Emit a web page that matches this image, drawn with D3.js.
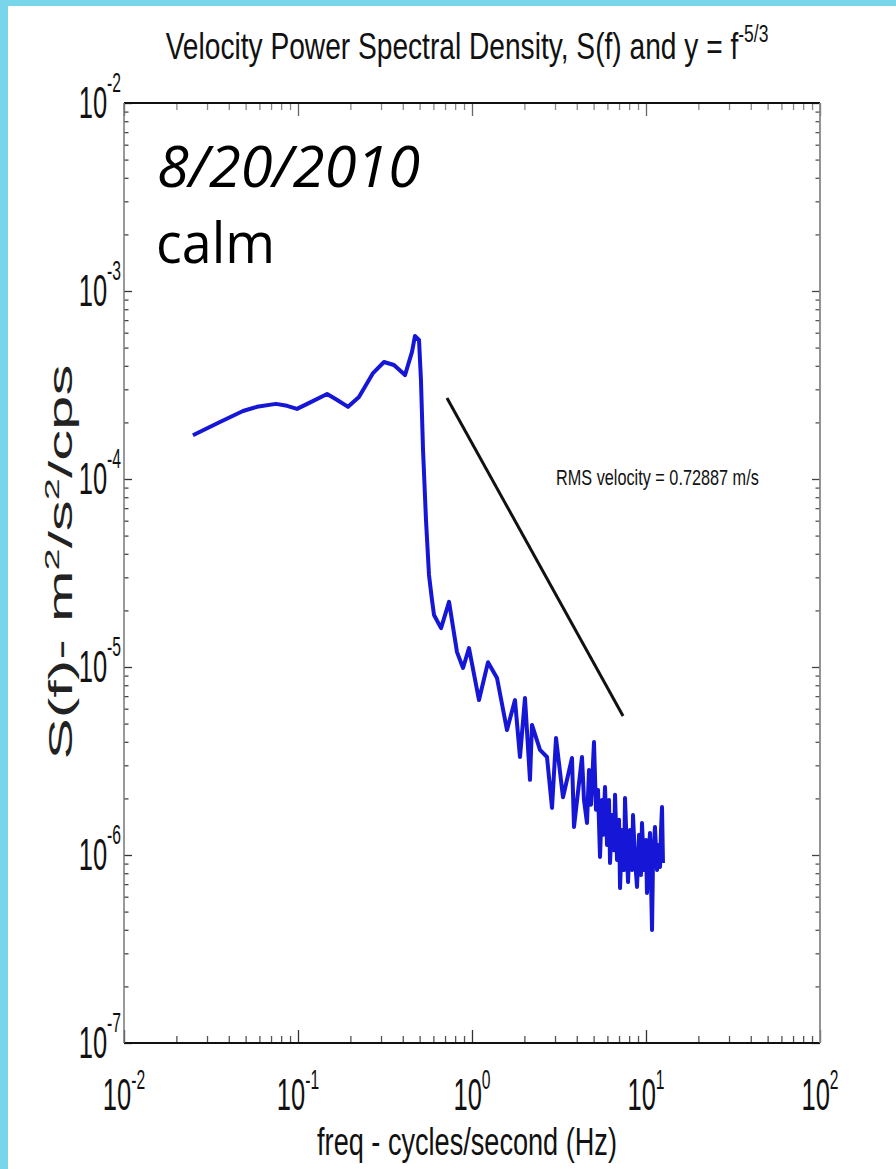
<!DOCTYPE html>
<html>
<head>
<meta charset="utf-8">
<script src="https://cdn.jsdelivr.net/npm/d3@7"></script>
<style>
  html, body { margin: 0; padding: 0; background: #fff; }
  #chart { width: 896px; height: 1169px; }
</style>
</head>
<body>
<div id="chart"></div>
<script>
// spectrum (Hz, m^2/s^2/cps)
const freq = [
  0.0249, 0.0356, 0.0483, 0.0581, 0.0747, 0.0865, 0.0987, 0.113, 0.147, 0.168,
  0.194, 0.224, 0.270, 0.312, 0.356, 0.412, 0.452, 0.470, 0.496, 0.509,
  0.523, 0.544, 0.566, 0.589, 0.605, 0.664, 0.738, 0.820, 0.888, 0.961,
  1.097, 1.236, 1.392, 1.589, 1.766, 1.887, 2.016, 2.154, 2.212, 2.459,
  2.698, 2.883, 3.040, 3.334, 3.755, 3.856, 4.287, 4.402, 4.580, 4.704,
  4.830, 5.025, 5.160, 5.299, 5.441, 5.587, 5.661, 5.814, 5.970, 6.131,
  6.212, 6.379, 6.550, 6.638, 6.816, 6.999, 7.092, 7.283, 7.478, 7.577,
  7.781, 7.884, 8.094, 8.311, 8.421, 8.648, 8.880, 9.118, 9.363, 9.484,
  9.739, 10.0, 10.13, 10.40, 10.54, 10.68, 10.83, 10.97, 11.26, 11.57,
  11.72, 12.04, 12.20, 12.36, 12.52
];
const psd = [
  1.71e-4, 2.01e-4, 2.30e-4, 2.42e-4, 2.51e-4, 2.45e-4, 2.36e-4, 2.51e-4, 2.83e-4, 2.63e-4,
  2.42e-4, 2.73e-4, 3.66e-4, 4.19e-4, 4.04e-4, 3.57e-4, 4.74e-4, 5.76e-4, 5.49e-4, 3.36e-4,
  1.43e-4, 6.05e-5, 3.09e-5, 2.27e-5, 1.89e-5, 1.61e-5, 2.22e-5, 1.20e-5, 9.88e-6, 1.26e-5,
  6.67e-6, 1.06e-5, 8.74e-6, 4.62e-6, 6.67e-6, 3.32e-6, 6.84e-6, 2.51e-6, 4.92e-6, 3.62e-6,
  3.32e-6, 1.78e-6, 4.19e-6, 2.03e-6, 3.28e-6, 1.41e-6, 3.32e-6, 1.96e-6, 1.48e-6, 2.83e-6,
  1.85e-6, 3.99e-6, 1.74e-6, 2.22e-6, 9.76e-7, 1.96e-6, 1.28e-6, 2.30e-6, 1.13e-6, 1.96e-6,
  9.07e-7, 1.63e-6, 1.06e-6, 2.09e-6, 9.41e-7, 1.54e-6, 6.67e-7, 1.36e-6, 8.32e-7, 2.01e-6,
  1.00e-6, 7.18e-7, 1.36e-6, 8.32e-7, 1.63e-6, 9.41e-7, 6.76e-7, 1.28e-6, 7.83e-7, 1.48e-6,
  8.32e-7, 1.20e-6, 6.28e-7, 1.06e-6, 1.31e-6, 7.36e-7, 3.99e-7, 9.41e-7, 1.41e-6, 8.32e-7,
  1.13e-6, 8.64e-7, 1.36e-6, 1.80e-6, 9.07e-7
];

// f^-5/3 reference segment (end points)
const refFreq = [0.718, 7.38];
const refPsd = [2.70e-4, 5.49e-6];

// decade exponents for the tick labels
const xTickExps = [-2, -1, 0, 1, 2];
const yTickExps = [-7, -6, -5, -4, -3, -2];

const titleText = "Velocity Power Spectral Density, S(f) and y = f";
const titleSup = "-5/3";
const xLabel = "freq - cycles/second (Hz)";
const rmsText = "RMS velocity = 0.72887 m/s";
const dateText = "8/20/2010";
const stateText = "calm";

const W = 896, H = 1169;
const plot = { left: 124, right: 820, top: 103, bottom: 1043 };
const matlabFont = "'Liberation Sans', Arial, sans-serif";
const squeeze = 0.58; // the pasted figure is squashed horizontally

const svg = d3.select("#chart").append("svg")
  .attr("width", W)
  .attr("height", H)
  .attr("viewBox", `0 0 ${W} ${H}`);

// --- slide background + cyan edges ---
svg.append("rect").attr("width", W).attr("height", H).attr("fill", "#fff");
svg.append("rect").attr("x", 0).attr("y", 0).attr("width", W).attr("height", 6).attr("fill", "#79d5ea");
svg.append("rect").attr("x", 0).attr("y", 0).attr("width", 8).attr("height", H).attr("fill", "#79d5ea");

// --- scales ---
const x = d3.scaleLog().domain([1e-2, 1e2]).range([plot.left, plot.right]);
const y = d3.scaleLog().domain([1e-7, 1e-2]).range([plot.bottom, plot.top]);

const decades = (lo, hi) => d3.range(lo, hi + 1).map(e => Math.pow(10, e));
const minors = (lo, hi) => d3.range(lo, hi).flatMap(e => d3.range(2, 10).map(m => m * Math.pow(10, e)));

const xMajor = decades(-2, 2), xMinor = minors(-2, 2);
const yMajor = decades(-7, -2), yMinor = minors(-7, -2);

// --- ticks (inward, on all four sides) ---
function tickGroup(axis, transform, color) {
  const g = svg.append("g").attr("transform", transform).call(axis);
  g.select(".domain").remove();
  g.selectAll(".tick line").attr("stroke", color).attr("stroke-width", 1.3);
  g.selectAll(".tick text").remove();
  return g;
}
tickGroup(d3.axisBottom(x).tickValues(xMajor).tickSize(-13).tickSizeOuter(0), `translate(0,${plot.bottom})`, "#333");
tickGroup(d3.axisBottom(x).tickValues(xMinor).tickSize(-7).tickSizeOuter(0), `translate(0,${plot.bottom})`, "#555");
tickGroup(d3.axisTop(x).tickValues(xMajor).tickSize(-13).tickSizeOuter(0), `translate(0,${plot.top})`, "#666");
tickGroup(d3.axisTop(x).tickValues(xMinor).tickSize(-7).tickSizeOuter(0), `translate(0,${plot.top})`, "#888");
tickGroup(d3.axisLeft(y).tickValues(yMajor).tickSize(-8).tickSizeOuter(0), `translate(${plot.left},0)`, "#333");
tickGroup(d3.axisLeft(y).tickValues(yMinor).tickSize(-4.5).tickSizeOuter(0), `translate(${plot.left},0)`, "#444");
tickGroup(d3.axisRight(y).tickValues(yMajor).tickSize(-8).tickSizeOuter(0), `translate(${plot.right},0)`, "#444");
tickGroup(d3.axisRight(y).tickValues(yMinor).tickSize(-4.5).tickSizeOuter(0), `translate(${plot.right},0)`, "#555");

// --- box ---
svg.append("line").attr("x1", plot.left).attr("x2", plot.right).attr("y1", plot.top).attr("y2", plot.top)
  .attr("stroke", "#111").attr("stroke-width", 2);
svg.append("line").attr("x1", plot.left).attr("x2", plot.right).attr("y1", plot.bottom).attr("y2", plot.bottom)
  .attr("stroke", "#111").attr("stroke-width", 2);
svg.append("line").attr("x1", plot.left).attr("x2", plot.left).attr("y1", plot.top).attr("y2", plot.bottom)
  .attr("stroke", "#777").attr("stroke-width", 1.5);
svg.append("line").attr("x1", plot.right).attr("x2", plot.right).attr("y1", plot.top).attr("y2", plot.bottom)
  .attr("stroke", "#888").attr("stroke-width", 1.8);

// --- tick labels, 10 with superscript exponent ---
function powerLabel(g, exp, supDy) {
  g.append("tspan").style("font-size", "44px").text("10");
  g.append("tspan").attr("dy", supDy).style("font-size", "27px").text(exp);
}
xTickExps.forEach(e => {
  const t = svg.append("text")
    .attr("transform", `translate(${x(Math.pow(10, e))},1110) scale(${squeeze},1)`)
    .attr("text-anchor", "middle")
    .attr("fill", "#111")
    .style("font-family", matlabFont);
  powerLabel(t, e, -21);
});
yTickExps.forEach(e => {
  const t = svg.append("text")
    .attr("transform", `translate(121,${y(Math.pow(10, e)) + 15}) scale(${squeeze},1)`)
    .attr("text-anchor", "end")
    .attr("fill", "#111")
    .style("font-family", matlabFont);
  powerLabel(t, e, -26);
});

// --- data lines ---
const spectrum = freq.map((f, i) => ({ f, s: psd[i] }));
const ref = refFreq.map((f, i) => ({ f, s: refPsd[i] }));
const line = d3.line().x(d => x(d.f)).y(d => y(d.s));

svg.append("path")
  .datum(ref)
  .attr("d", line)
  .attr("fill", "none")
  .attr("stroke", "#111")
  .attr("stroke-width", 3);

svg.append("path")
  .datum(spectrum)
  .attr("d", line)
  .attr("fill", "none")
  .attr("stroke", "#1616d6")
  .attr("stroke-width", 4)
  .attr("stroke-linejoin", "round");

// --- text helper: stretch text to a measured width ---
function fitX(sel, width, tx, ty) {
  const w = sel.node().getBBox().width;
  sel.attr("transform", `translate(${tx},${ty}) scale(${width / w},1)`);
}

// --- title ---
const title = svg.append("text")
  .attr("text-anchor", "middle")
  .attr("fill", "#111")
  .style("font-family", matlabFont)
  .style("font-size", "37px");
title.append("tspan").text(titleText);
title.append("tspan").attr("dy", -17).style("font-size", "23px").text(titleSup);
fitX(title, 603, 467, 59);

// --- x label ---
const xl = svg.append("text")
  .attr("text-anchor", "middle")
  .attr("fill", "#111")
  .style("font-family", matlabFont)
  .style("font-size", "39px")
  .text(xLabel);
fitX(xl, 300, 467, 1155);

// --- y label (rotated) ---
const yl = svg.append("text")
  .attr("text-anchor", "middle")
  .attr("fill", "#222")
  .style("font-family", matlabFont)
  .style("font-size", "56px");
yl.append("tspan").text("S(f)- m");
yl.append("tspan").attr("dy", -22).style("font-size", "36px").text("2");
yl.append("tspan").attr("dy", 22).text("/s");
yl.append("tspan").attr("dy", -22).style("font-size", "36px").text("2");
yl.append("tspan").attr("dy", 22).text("/cps");
const ylLen = yl.node().getBBox().width;
yl.attr("transform", `translate(72,562) scale(${squeeze},${395 / ylLen}) rotate(-90)`);

// --- RMS note ---
const rms = svg.append("text")
  .attr("fill", "#111")
  .style("font-family", matlabFont)
  .style("font-size", "22px")
  .text(rmsText);
fitX(rms, 203, 556, 485);

// --- slide annotations ---
svg.append("text")
  .attr("x", 157)
  .attr("y", 187)
  .attr("fill", "#000")
  .attr("textLength", 263)
  .attr("lengthAdjust", "spacingAndGlyphs")
  .style("font-family", "'Open Sans', 'Noto Sans', sans-serif")
  .style("font-style", "italic")
  .style("font-size", "57px")
  .text(dateText);

svg.append("text")
  .attr("x", 156)
  .attr("y", 263)
  .attr("fill", "#000")
  .attr("textLength", 119)
  .attr("lengthAdjust", "spacingAndGlyphs")
  .style("font-family", "'Open Sans', 'Noto Sans', sans-serif")
  .style("font-size", "57px")
  .text(stateText);
</script>
</body>
</html>
